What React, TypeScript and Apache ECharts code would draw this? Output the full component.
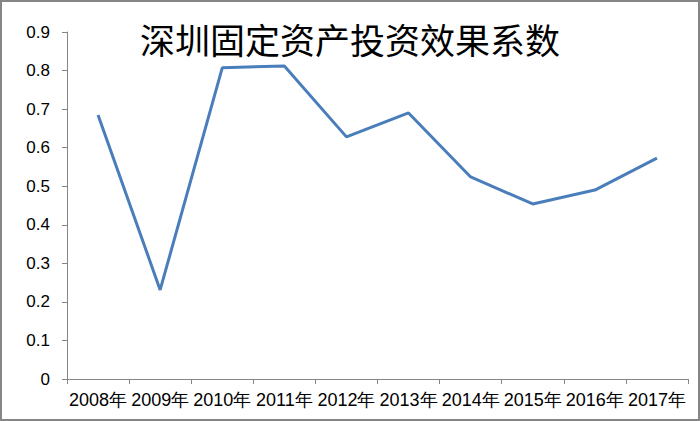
import React, { useEffect, useRef } from "react";
import * as echarts from "echarts";

const title = "深圳固定资产投资效果系数";
const categories = ["2008年", "2009年", "2010年", "2011年", "2012年", "2013年", "2014年", "2015年", "2016年", "2017年"];
const values = [0.685, 0.231, 0.807, 0.812, 0.628, 0.69, 0.524, 0.454, 0.49, 0.573];

export default function App() {
  const ref = useRef<HTMLDivElement>(null);
  useEffect(() => {
    document.body.style.margin = "0";
    const chart = echarts.init(ref.current!, undefined, { renderer: "svg" });
    chart.setOption({
      animation: false,
      backgroundColor: "#ffffff",
      title: {
        text: title,
        left: "center",
        top: 16,
        textStyle: { fontFamily: "Noto Sans CJK SC", fontWeight: "normal", fontSize: 35, color: "#000" },
      },
      graphic: [
        {
          type: "rect",
          shape: { x: 1, y: 1, width: 698, height: 419 },
          style: { fill: "none", stroke: "#868686", lineWidth: 2 },
          silent: true,
        },
      ],
      grid: { left: 67, right: 12, top: 32, bottom: 42 },
      xAxis: {
        type: "category",
        data: categories,
        axisLine: { lineStyle: { color: "#868686", width: 1 } },
        axisTick: { show: true, length: 5, lineStyle: { color: "#868686" } },
        axisLabel: { color: "#000", fontFamily: "Liberation Sans", fontSize: 18, margin: 12, interval: 0 },
      },
      yAxis: {
        type: "value",
        min: 0,
        max: 0.9,
        interval: 0.1,
        splitLine: { show: false },
        axisLine: { show: true, lineStyle: { color: "#868686", width: 1 } },
        axisTick: { show: true, length: 5, lineStyle: { color: "#868686" } },
        axisLabel: {
          color: "#000",
          fontFamily: "Liberation Sans",
          fontSize: 17,
          margin: 17,
          formatter: (v: number) => (v === 0 ? "0" : v.toFixed(1)),
        },
      },
      series: [
        {
          type: "line",
          data: values,
          symbol: "none",
          lineStyle: { color: "#4A7EBB", width: 3 },
        },
      ],
    });
    return () => chart.dispose();
  }, []);
  return <div ref={ref} style={{ width: 700, height: 421 }} />;
}
